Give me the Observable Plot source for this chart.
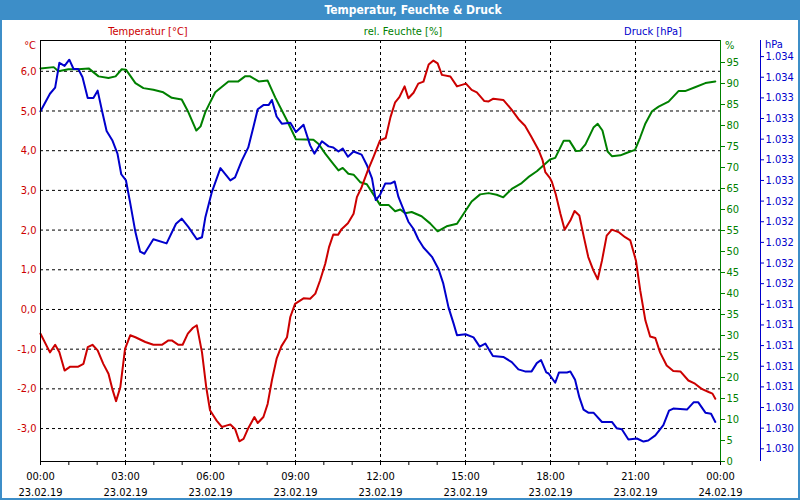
<!DOCTYPE html>
<html>
<head>
<meta charset="utf-8">
<script src="https://cdn.jsdelivr.net/npm/d3@7"></script>
<script src="https://cdn.jsdelivr.net/npm/@observablehq/plot@0.6"></script>
<style>
  html, body { margin: 0; padding: 0; background: #fff; }
  #wrap { position: relative; width: 800px; height: 500px; overflow: hidden; background: #fff;
          font-family: "DejaVu Sans Condensed", "Liberation Sans", sans-serif; font-size: 11px; }
  #title { position: absolute; left: 13px; top: 0; width: 800px; height: 20px; line-height: 21px;
           text-align: center; color: #fff; font-weight: bold; font-size: 12px; }
  #titlebg { position: absolute; left: 0; top: 0; width: 800px; height: 20px; background: #3d8ec8; }
  #border { position: absolute; left: 0; top: 0; width: 800px; height: 500px; box-sizing: border-box;
            border: 2px solid #3d8ec8; pointer-events: none; }
  .lbl { position: absolute; white-space: nowrap; line-height: 13px; }
  .c { transform: translateX(-50%); }
  #chart { position: absolute; left: 0; top: 20px; }
</style>
</head>
<body>
<div id="wrap">
  <div id="titlebg"></div>
  <div id="title">Temperatur, Feuchte &amp; Druck</div>
  <div class="lbl c" style="left:148px;top:25px;color:#cc0000">Temperatur [°C]</div>
  <div class="lbl c" style="left:403px;top:25px;color:#008000">rel. Feuchte [%]</div>
  <div class="lbl c" style="left:653px;top:25px;color:#0000cc">Druck [hPa]</div>
  <div class="lbl" style="right:764px;top:39px;color:#cc0000">°C</div>
  <div class="lbl" style="left:725px;top:39px;color:#008000">%</div>
  <div class="lbl" style="left:765px;top:38px;color:#0000cc">hPa</div>
  <div id="chart"></div>
  <div id="border"></div>
</div>
<script>
// ---- data (minutes since 23.02.19 00:00) ----
const tempMinutes = [0,20,31,40,51,63,80,91,100,110,121,133,144,152,160,169,179,190,201,222,239,257,271,278,292,301,312,323,331,342,351,359,366,373,384,395,402,412,421,430,440,453,460,472,481,490,500,510,522,529,539,557,571,582,592,603,611,620,630,638,651,663,670,680,693,705,719,731,741,751,760,771,779,790,800,811,822,832,841,850,868,882,901,913,924,940,949,959,980,998,1012,1026,1040,1055,1063,1069,1079,1083,1091,1101,1110,1122,1131,1141,1150,1160,1171,1180,1189,1199,1210,1224,1238,1249,1261,1270,1281,1291,1302,1312,1326,1340,1355,1372,1386,1400,1415,1423,1429];
const tempValues = [-0.61,-1.08,-0.89,-1.08,-1.54,-1.44,-1.44,-1.37,-0.95,-0.89,-1.03,-1.37,-1.62,-2.00,-2.31,-1.96,-0.99,-0.65,-0.70,-0.82,-0.89,-0.89,-0.78,-0.78,-0.89,-0.89,-0.61,-0.46,-0.40,-1.08,-1.96,-2.54,-2.67,-2.80,-2.96,-2.92,-2.90,-3.01,-3.32,-3.26,-2.99,-2.71,-2.86,-2.71,-2.38,-1.79,-1.24,-0.93,-0.70,-0.19,0.14,0.28,0.27,0.40,0.73,1.15,1.57,1.89,1.88,2.03,2.17,2.41,2.83,3.08,3.50,3.84,4.26,4.32,4.84,5.22,5.35,5.62,5.32,5.46,5.69,5.74,6.17,6.27,6.20,5.91,5.87,5.62,5.69,5.53,5.47,5.25,5.24,5.31,5.28,5.03,4.80,4.63,4.34,4.01,3.77,3.46,3.31,3.21,2.91,2.41,2.01,2.24,2.48,2.37,1.86,1.32,0.98,0.76,1.23,1.86,2.01,1.95,1.82,1.74,1.23,0.48,-0.28,-0.68,-0.72,-1.08,-1.41,-1.55,-1.56,-1.79,-1.87,-2.00,-2.08,-2.12,-2.25];

const humMinutes = [0,28,38,59,80,102,123,144,159,172,181,201,218,239,260,278,299,313,330,339,349,356,370,398,419,433,444,462,481,497,522,541,578,589,603,617,631,640,652,663,677,691,705,719,737,751,762,772,786,807,825,841,860,882,896,913,931,949,966,980,998,1019,1033,1051,1069,1079,1090,1108,1120,1134,1143,1154,1171,1180,1190,1201,1210,1228,1242,1259,1270,1281,1295,1309,1330,1351,1365,1386,1408,1429];
const humValues = [93.6,93.9,92.9,93.4,93.4,93.6,91.7,91.3,91.7,93.4,93.3,90.1,88.9,88.5,87.9,86.6,86.2,83.2,78.8,79.8,83.2,84.8,87.9,90.5,90.5,91.7,91.7,90.5,90.7,86.7,81.2,76.7,76.6,75.6,73.3,71.3,69.3,69.9,68.5,68.3,66.5,66.0,63.6,61.1,61.1,59.6,60.0,59.1,59.4,58.4,56.7,54.8,56.0,56.6,59.0,61.9,63.6,63.9,63.5,62.9,64.9,66.3,67.7,69.1,70.9,71.9,72.3,76.4,76.4,73.9,74.0,75.5,79.5,80.4,78.8,73.8,72.7,72.9,73.5,74.2,77.2,80.5,83.4,84.5,85.7,88.2,88.2,89.1,90.1,90.5];

const presMinutes = [0,20,31,40,51,61,70,80,89,100,112,121,130,140,152,163,171,181,190,201,211,220,239,267,287,299,313,331,342,349,363,381,402,412,426,440,451,460,472,483,490,500,511,529,541,557,571,580,596,610,620,631,640,651,663,680,691,702,710,719,730,741,750,758,765,779,790,800,811,829,843,853,864,875,882,900,917,930,942,958,980,998,1012,1026,1040,1051,1060,1071,1076,1090,1098,1115,1122,1132,1141,1150,1160,1171,1189,1210,1220,1231,1245,1263,1277,1287,1302,1319,1331,1340,1369,1383,1393,1408,1420,1429];
const presValues = [1033.77,1033.94,1034.00,1034.24,1034.21,1034.27,1034.18,1034.18,1034.10,1033.90,1033.90,1033.97,1033.78,1033.58,1033.49,1033.36,1033.16,1033.10,1032.88,1032.60,1032.41,1032.39,1032.53,1032.49,1032.68,1032.73,1032.65,1032.53,1032.55,1032.74,1032.99,1033.22,1033.10,1033.13,1033.29,1033.42,1033.62,1033.79,1033.83,1033.83,1033.88,1033.72,1033.65,1033.66,1033.57,1033.64,1033.44,1033.36,1033.48,1033.43,1033.42,1033.38,1033.41,1033.33,1033.38,1033.35,1033.25,1033.12,1032.91,1032.96,1033.07,1033.07,1033.09,1032.94,1032.86,1032.70,1032.63,1032.53,1032.45,1032.36,1032.24,1032.10,1031.87,1031.71,1031.60,1031.61,1031.58,1031.49,1031.52,1031.40,1031.39,1031.34,1031.27,1031.25,1031.25,1031.33,1031.36,1031.24,1031.23,1031.14,1031.24,1031.24,1031.25,1031.17,1031.00,1030.88,1030.85,1030.85,1030.76,1030.76,1030.70,1030.69,1030.59,1030.60,1030.57,1030.58,1030.63,1030.73,1030.87,1030.89,1030.88,1030.95,1030.95,1030.85,1030.84,1030.76];

// ---- axis ticks & labels ----
const tempTicks = [-3,-2,-1,0,1,2,3,4,5,6];
const humTicks = [0,5,10,15,20,25,30,35,40,45,50,55,60,65,70,75,80,85,90,95];
const presTicks = [1030.5,1030.7,1030.9,1031.1,1031.3,1031.5,1031.7,1031.9,1032.1,1032.3,1032.5,1032.7,1032.9,1033.1,1033.3,1033.5,1033.7,1033.9,1034.1,1034.3];
const presTickLabels = ["1.030","1.030","1.030","1.031","1.031","1.031","1.031","1.031","1.032","1.032","1.032","1.032","1.032","1.033","1.033","1.033","1.033","1.033","1.034","1.034"];
const xTickMinutes = [0,180,360,540,720,900,1080,1260,1440];
const xTimeLabels = ["00:00","03:00","06:00","09:00","12:00","15:00","18:00","21:00","00:00"];
const xDateLabels = ["23.02.19","23.02.19","23.02.19","23.02.19","23.02.19","23.02.19","23.02.19","23.02.19","24.02.19"];

// ---- scale frames (value at bottom / top edge of the plot frame) ----
const tFrame = [-3.83, 6.776];
const hFrame = [0, 100.24];
const pFrame = [1030.377, 1034.456];

const RED = "#cc0000", GREEN = "#008000", BLUE = "#0000cc";
const t0 = Date.UTC(2019, 1, 23);
const toDate = m => new Date(t0 + m * 60000);
const toTemp = (v, f) => tFrame[0] + (v - f[0]) / (f[1] - f[0]) * (tFrame[1] - tFrame[0]);

const tempData = tempMinutes.map((m, i) => ({date: toDate(m), v: tempValues[i]}));
const humData = humMinutes.map((m, i) => ({date: toDate(m), v: toTemp(humValues[i], hFrame)}));
const presData = presMinutes.map((m, i) => ({date: toDate(m), v: toTemp(presValues[i], pFrame)}));

const humTickPos = humTicks.map(h => toTemp(h, hFrame));
const presTickPos = presTicks.map(p => toTemp(p, pFrame));
const xTicks = xTickMinutes.map(toDate);
const hourTicks = d3.range(0, 1441, 60).map(toDate);
const gridHours = xTicks.slice(1, -1);

const chart = Plot.plot({
  width: 800, height: 480,
  marginLeft: 40, marginRight: 80, marginTop: 20, marginBottom: 39,
  style: {fontFamily: '"DejaVu Sans Condensed", "Liberation Sans", sans-serif', fontSize: "11px", background: "transparent", overflow: "visible"},
  x: {type: "utc", domain: [toDate(0), toDate(1440)]},
  y: {domain: tFrame},
  marks: [
    Plot.gridY(tempTicks, {stroke: "#000", strokeOpacity: 1, strokeDasharray: "3,3"}),
    Plot.gridX(gridHours, {stroke: "#000", strokeOpacity: 1, strokeDasharray: "3,3"}),
    Plot.line(humData, {x: "date", y: "v", stroke: GREEN, strokeWidth: 2}),
    Plot.line(presData, {x: "date", y: "v", stroke: BLUE, strokeWidth: 2}),
    Plot.line(tempData, {x: "date", y: "v", stroke: RED, strokeWidth: 2}),
    Plot.ruleY([tFrame[1]], {stroke: "#000"}),
    Plot.ruleY([tFrame[0]], {stroke: "#000"}),
    Plot.ruleX([toDate(0)], {stroke: "#000"}),
    Plot.ruleX([toDate(1440)], {stroke: GREEN}),
    Plot.ruleX([toDate(1440)], {stroke: BLUE, dx: 40}),
    Plot.axisY(tempTicks, {anchor: "left", tickSize: 0, tickPadding: 4, color: RED, label: null,
      tickFormat: d => d.toFixed(1).replace(".", ",")}),
    Plot.axisY(humTickPos, {anchor: "right", tickSize: 4, tickPadding: 2, color: GREEN, label: null,
      tickFormat: d => String(humTicks[humTickPos.findIndex(p => Math.abs(p - d) < 1e-9)])}),
    Plot.axisY(presTickPos, {anchor: "right", dx: 40, tickSize: 3, tickPadding: 2, color: BLUE, label: null,
      tickFormat: d => presTickLabels[presTickPos.findIndex(p => Math.abs(p - d) < 1e-9)]}),
    Plot.axisX(hourTicks, {tickSize: 4, tickFormat: () => "", label: null, color: "#000"}),
    Plot.axisX(xTicks, {tickSize: 0, tickPadding: 7, label: null, color: "#000", lineHeight: 1.45,
      tickFormat: d => { const i = xTicks.findIndex(t => +t === +d); return xTimeLabels[i] + "\n" + xDateLabels[i]; }})
  ]
});
document.getElementById("chart").appendChild(chart);
</script>
</body>
</html>
